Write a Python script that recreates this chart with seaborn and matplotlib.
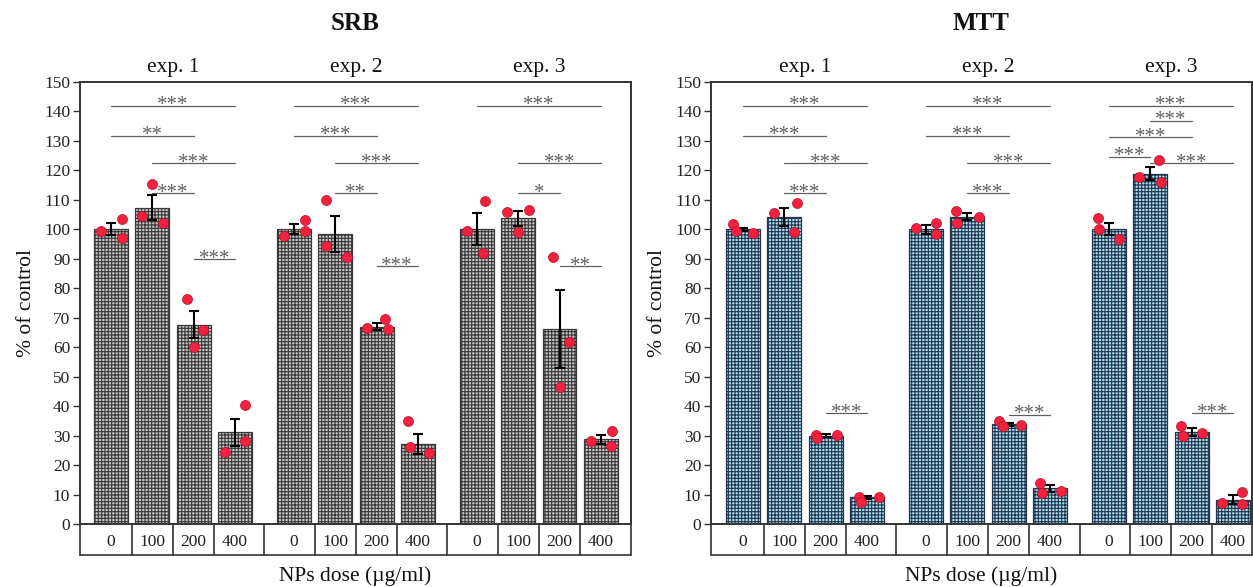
import matplotlib
matplotlib.use("Agg")
import matplotlib.pyplot as plt
import numpy as np
import pandas as pd
import seaborn as sns

# ---------------------------------------------------------------- data
DOSES = ["0", "100", "200", "400"]
EXPERIMENTS = ["exp. 1", "exp. 2", "exp. 3"]

# SRB assay: mean % of control and SEM, 3 experiments x 4 doses
SRB_MEAN = [100.0, 107.4, 67.6, 31.1,
            100.0, 98.4, 67.0, 27.2,
            100.0, 103.7, 66.3, 28.8]
SRB_SEM = [2.0, 4.1, 4.6, 4.5,
           1.7, 6.0, 1.2, 3.4,
           5.4, 2.4, 13.2, 1.5]
SRB_REPS = [[99.4, 103.6, 96.9], [104.5, 115.5, 102.3], [76.5, 60.1, 66.0], [24.6, 40.5, 28.0],
            [97.7, 103.1, 99.4], [109.9, 94.3, 90.7], [66.6, 69.7, 66.2], [35.1, 26.3, 24.0],
            [99.4, 109.6, 91.8], [105.9, 106.6, 99.1], [90.7, 61.7, 46.4], [28.3, 31.4, 26.5]]

# MTT assay
MTT_MEAN = [100.0, 104.2, 29.9, 9.0,
            100.0, 104.3, 33.8, 12.1,
            100.0, 118.9, 31.2, 8.3]
MTT_SEM = [0.6, 3.0, 0.5, 0.5,
           1.5, 1.1, 0.5, 1.1,
           2.0, 2.3, 1.3, 1.5]
MTT_REPS = [[101.9, 99.4, 98.9], [105.4, 109.1, 99.1], [30.3, 29.1, 30.3], [9.3, 7.6, 9.1],
            [100.6, 102.3, 98.3], [106.2, 102.0, 104.2], [34.8, 33.1, 33.7], [14.0, 10.6, 11.3],
            [104.0, 100.0, 96.8], [117.6, 123.5, 115.9], [33.1, 29.7, 30.8], [7.0, 11.0, 6.8]]

# significance: (experiment, dose index a, dose index b, bracket height, label)
SRB_SIG = [(0, 0, 3, 142.0, "***"), (0, 0, 2, 131.7, "**"), (0, 1, 3, 122.4, "***"),
           (0, 1, 2, 112.2, "***"), (0, 2, 3, 89.8, "***"),
           (1, 0, 3, 142.0, "***"), (1, 0, 2, 131.7, "***"), (1, 1, 3, 122.4, "***"),
           (1, 1, 2, 112.2, "**"), (1, 2, 3, 87.5, "***"),
           (2, 0, 3, 142.0, "***"), (2, 1, 3, 122.4, "***"), (2, 1, 2, 112.2, "*"),
           (2, 2, 3, 87.5, "**")]
MTT_SIG = [(0, 0, 3, 142.0, "***"), (0, 0, 2, 131.7, "***"), (0, 1, 3, 122.4, "***"),
           (0, 1, 2, 112.2, "***"), (0, 2, 3, 37.6, "***"),
           (1, 0, 3, 142.0, "***"), (1, 0, 2, 131.7, "***"), (1, 1, 3, 122.4, "***"),
           (1, 1, 2, 112.2, "***"), (1, 2, 3, 37.1, "***"),
           (2, 0, 3, 142.0, "***"), (2, 1, 2, 136.8, "***"), (2, 0, 2, 131.2, "***"),
           (2, 0, 1, 124.7, "***"), (2, 1, 3, 122.4, "***"), (2, 2, 3, 37.6, "***")]

# horizontal spread of the replicate dots around each bar centre
SRB_SPREAD = [[-0.23, 0.26, 0.26], [-0.26, 0.0, 0.26], [-0.16, 0.0, 0.23], [-0.24, 0.24, 0.24],
              [-0.25, 0.26, 0.26], [-0.23, -0.23, 0.28], [-0.23, 0.2, 0.27], [-0.23, -0.2, 0.27],
              [-0.23, 0.2, 0.14], [-0.27, 0.26, 0.0], [-0.17, 0.23, 0.0], [-0.25, 0.26, 0.24]]
MTT_SPREAD = [[-0.25, -0.17, 0.23], [-0.25, 0.31, 0.23], [-0.23, -0.2, 0.27], [-0.2, -0.15, 0.3],
              [-0.25, 0.24, 0.24], [-0.27, -0.26, 0.27], [-0.23, -0.13, 0.3], [-0.23, -0.2, 0.26],
              [-0.26, -0.25, 0.23], [-0.27, 0.22, 0.25], [-0.25, -0.2, 0.26], [-0.27, 0.22, 0.22]]

# ---------------------------------------------------------------- style
sns.set_theme(style="ticks")
plt.rcParams["font.family"] = ["Liberation Serif", "DejaVu Serif"]
plt.rcParams["hatch.linewidth"] = 0.8

GROUP_STEP = 4.43
BAR_WIDTH = 0.82
TABLE_H = 31 / 442
INK = "#333333"
SIG_COLOR = "#606060"

W, H = 1253, 587
fig = plt.figure(figsize=(W / 100, H / 100), dpi=100)
axL = fig.add_axes([80 / W, 63 / H, 551 / W, 442 / H])
axR = fig.add_axes([711 / W, 63 / H, 541 / W, 442 / H])


def draw_panel(ax, title, means, sems, reps, spread, sigs, face, grid, xlim):
    pos = [g * GROUP_STEP + i for g in range(len(EXPERIMENTS)) for i in range(len(DOSES))]
    bars = pd.DataFrame({"pos": pos, "mean": means})
    sns.barplot(data=bars, x="pos", y="mean", native_scale=True, width=BAR_WIDTH,
                color=face, saturation=1, edgecolor=grid, linewidth=0.9,
                hatch="+++++", errorbar=None, ax=ax, zorder=2)

    ax.errorbar(pos, means, yerr=sems, fmt="none", ecolor="black",
                elinewidth=1.5, capsize=3.5, capthick=1.5, zorder=4)

    dots = pd.DataFrame({
        "x": [p + d for p, ds in zip(pos, spread) for d in ds],
        "y": [v for vs in reps for v in vs],
    })
    sns.scatterplot(data=dots, x="x", y="y", s=52, color="#f3213d",
                    edgecolor="#b5122c", linewidth=0.5, zorder=5, ax=ax, legend=False)

    for g, a, b, h, lab in sigs:
        x0, x1 = g * GROUP_STEP + a, g * GROUP_STEP + b
        ax.plot([x0, x1], [h, h], color=SIG_COLOR, lw=0.9, zorder=3)
        ax.annotate(lab, xy=((x0 + x1) / 2, h), xytext=(0, -3.2), textcoords="offset points",
                    ha="center", va="baseline", fontsize=15, color=SIG_COLOR, zorder=3)

    ax.set_xlim(*xlim)
    ax.set_ylim(0, 150)
    ax.set_yticks(np.arange(0, 151, 10))
    ax.tick_params(axis="y", direction="out", length=5, width=1.0, color=INK,
                   labelsize=12.5, labelcolor="#222222", pad=2)
    ax.set_xticks(pos, labels=DOSES * len(EXPERIMENTS))
    ax.tick_params(axis="x", length=0, labelsize=12.5, labelcolor="#222222", pad=7)
    for sp in ax.spines.values():
        sp.set_visible(True)
        sp.set_color(INK)
        sp.set_linewidth(1.4)

    # dose table under the axis
    tr = ax.get_xaxis_transform()
    xl, xr = ax.get_xlim()
    edges = [xl, xr]
    for g in range(len(EXPERIMENTS)):
        base = g * GROUP_STEP
        edges += [base + i + 0.5 for i in range(len(DOSES) - 1)]
        if g < len(EXPERIMENTS) - 1:
            edges.append(base + (len(DOSES) - 1) + (GROUP_STEP - (len(DOSES) - 1)) / 2)
    ax.plot([xl, xr], [-TABLE_H, -TABLE_H], transform=tr, clip_on=False, color=INK, lw=1.2)
    for e in edges:
        ax.plot([e, e], [0, -TABLE_H], transform=tr, clip_on=False, color=INK, lw=1.2)

    for g, name in enumerate(EXPERIMENTS):
        ax.text(g * GROUP_STEP + 1.5, 1.022, name, transform=tr, ha="center",
                va="baseline", fontsize=15.5, color="#111111")

    ax.set_ylabel("% of control", fontsize=15.5, labelpad=6, color="#111111")
    ax.set_xlabel("NPs dose (µg/ml)", fontsize=15.5, labelpad=12, color="#111111")

    bb = ax.get_position()
    fig.text((bb.x0 + bb.x1) / 2, 1 - 24 / H, title, ha="center", va="center",
             fontsize=18, fontweight="bold", color="#111111")


draw_panel(axL, "SRB", SRB_MEAN, SRB_SEM, SRB_REPS, SRB_SPREAD, SRB_SIG,
           face="#c6c6c6", grid="#383838", xlim=(-0.75, 12.59))
draw_panel(axR, "MTT", MTT_MEAN, MTT_SEM, MTT_REPS, MTT_SPREAD, MTT_SIG,
           face="#a6dfee", grid="#24334d", xlim=(-0.775, 12.32))

fig.savefig("out.png", dpi=100)
